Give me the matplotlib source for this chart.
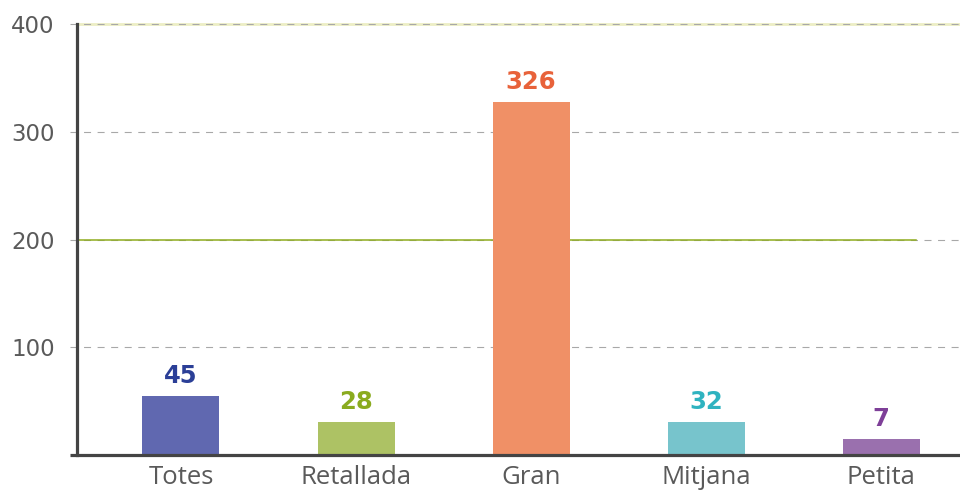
#!/usr/bin/env python3
"""Bar chart: number of items per size category (Catalan labels)."""

import matplotlib
matplotlib.use('Agg')
import matplotlib.pyplot as plt
import matplotlib.transforms as mtransforms

# Data
categories = ['Totes', 'Retallada', 'Gran', 'Mitjana', 'Petita']
value_labels = [45, 28, 326, 32, 7]          # numbers printed above the bars
bar_heights = [55, 31, 328, 31, 15]          # drawn bar heights as measured
yticks = [100, 200, 300, 400]

bar_colors = ['#6068b0', '#adc264', '#f09066', '#77c4cc', '#9a70ae']
label_colors = ['#2b3f97', '#8aab1f', '#e8623a', '#2fb3c0', '#7e3f98']

plt.rcParams['font.family'] = ['DejaVu Sans']

fig = plt.figure(figsize=(9.6, 4.9), dpi=100)
ax = fig.add_axes([0.0802, 0.0714, 0.9198, 0.8796])

x = list(range(len(categories)))
bars = ax.bar(x, bar_heights, width=0.44, color=bar_colors, zorder=3)

ax.set_xlim(-0.594, 4.45)
ax.set_ylim(0, 400)

# gridlines reach a little left of the y axis
trans = mtransforms.blended_transform_factory(ax.transAxes, ax.transData)
stub = -0.008
ax.plot([0, 1], [400, 400], transform=trans, color='#eceec4', lw=2.0,
        zorder=1, clip_on=False)
for yv in yticks:
    ax.plot([stub, 1], [yv, yv], transform=trans, color='#a8a8a8', lw=0.8,
            linestyle=(0, (6.3, 5.9)), zorder=2, clip_on=False)
ax.plot([0, 0.95], [200, 200], transform=trans, color='#8fac1e', lw=1.1,
        zorder=2, clip_on=False)

# axes lines
for side in ['top', 'right', 'bottom']:
    ax.spines[side].set_visible(False)
ax.spines['left'].set_color('#444444')
ax.spines['left'].set_linewidth(2.3)
ax.spines['left'].set_zorder(4)
ax.plot([stub, 1], [0, 0], transform=trans, color='#444444', lw=2.3,
        zorder=4, clip_on=False, solid_capstyle='butt')

ax.set_yticks(yticks)
ax.set_yticklabels([str(v) for v in yticks])
ax.set_xticks(x)
ax.set_xticklabels(categories, fontsize=18.5, family=['Open Sans', 'DejaVu Sans'])
ax.tick_params(axis='y', length=0, pad=16, labelsize=16.5, labelcolor='#5a5a5a')
ax.tick_params(axis='x', length=0, pad=7.5, labelcolor='#5a5a5a')

for bar, val, col in zip(bars, value_labels, label_colors):
    ax.annotate(str(val), (bar.get_x() + bar.get_width() / 2, bar.get_height()),
                xytext=(0, 9), textcoords='offset points', ha='center',
                va='baseline', fontsize=17.5, fontweight='bold', color=col)

fig.savefig('out.png', dpi=100)
